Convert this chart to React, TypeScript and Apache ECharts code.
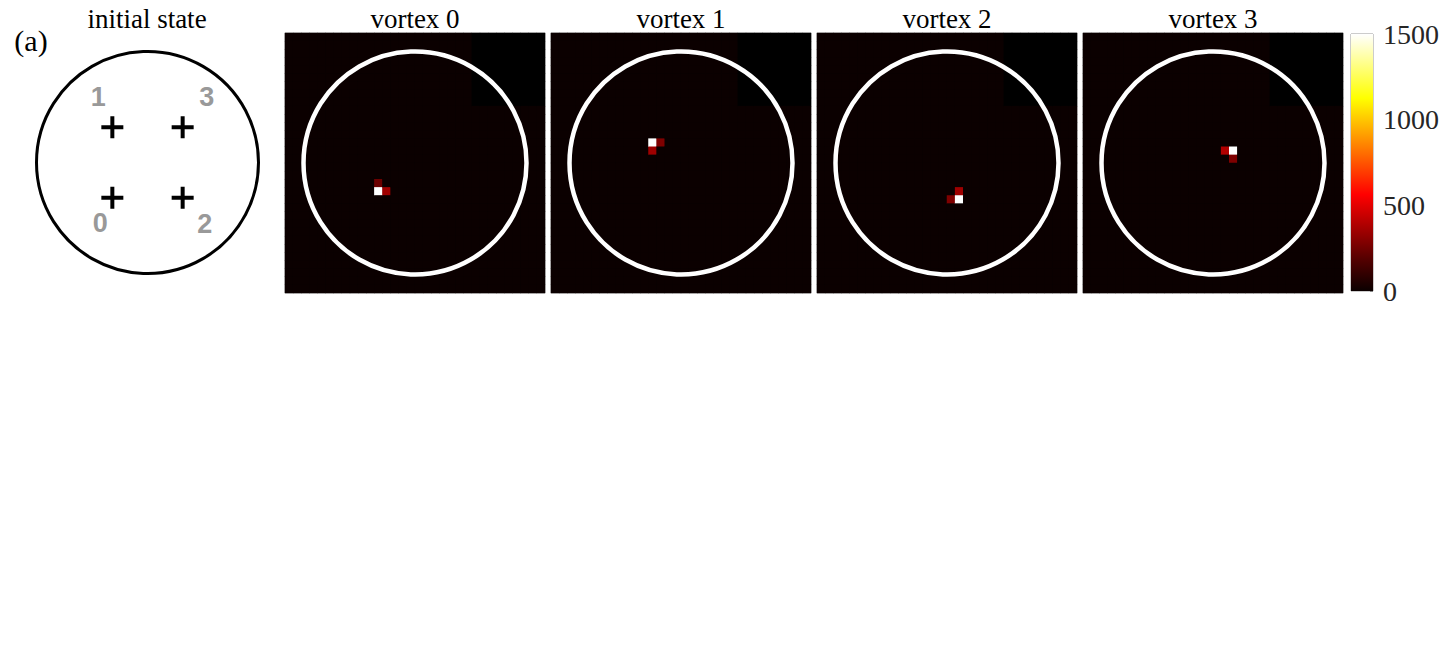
import React, { useEffect, useRef } from "react";
import * as echarts from "echarts";

// ---------- data ----------
const GRID_N = 32; // cells per side of each vortex map
const vortexTitles = ["vortex 0", "vortex 1", "vortex 2", "vortex 3"];
// hot cells per vortex map: [column, row(from top), counts]
const vortex0Cells = [[11, 18, 235], [11, 19, 1500], [12, 19, 350]];
const vortex1Cells = [[12, 13, 1500], [13, 13, 280], [12, 14, 350]];
const vortex2Cells = [[17, 19, 350], [17, 20, 1500], [16, 20, 280]];
const vortex3Cells = [[17, 14, 390], [18, 14, 1500], [18, 15, 280]];
const vortexCells = [vortex0Cells, vortex1Cells, vortex2Cells, vortex3Cells];
const backgroundValue = 0;
// top-right block with no data (drawn pure black): columns / rows
const emptyCols = [23, 31];
const emptyRows = [0, 8];
const emptyValue = -1;

const initialIds = ["0", "1", "2", "3"];
const initialX = [-1, -1, 1, 1];
const initialY = [-1, 1, -1, 1];

const colorbarMin = 0;
const colorbarMax = 1500;
const colorbarInterval = 500;

// ---------- styles ----------
const hotColors = [
  "#0b0000", "#550000", "#aa0000", "#ff0000", "#ff5500",
  "#ffaa00", "#ffff00", "#ffff80", "#ffffff",
];
const SERIF = "Liberation Serif";
const labelOffsets = [[-12, 25], [-14, -30], [22, 26], [24, -30]];
const PLUS = "path://M9,0H13V9H22V13H13V22H9V13H0V9H9Z";

function buildCells(hot: number[][]) {
  const out: number[][] = [];
  for (let c = 0; c < GRID_N; c++) {
    for (let r = 0; r < GRID_N; r++) {
      const inEmpty =
        c >= emptyCols[0] && c <= emptyCols[1] && r >= emptyRows[0] && r <= emptyRows[1];
      out.push([c, r, inEmpty ? emptyValue : backgroundValue]);
    }
  }
  hot.forEach(([c, r, v]) => {
    out[c * GRID_N + r] = [c, r, v];
  });
  return out;
}

function buildOption() {
  const cats = Array.from({ length: GRID_N }, (_, i) => String(i));
  const panelLeft = 285, panelStep = 266, panelTop = 33, panelSize = 260;

  const grids: any[] = [{ left: 35, top: 50, width: 225, height: 225 }];
  const xAxes: any[] = [{ gridIndex: 0, type: "value", min: -3.2, max: 3.2, show: false }];
  const yAxes: any[] = [{ gridIndex: 0, type: "value", min: -3.2, max: 3.2, show: false }];
  const series: any[] = [];
  const graphics: any[] = [];

  series.push({
    type: "scatter", xAxisIndex: 0, yAxisIndex: 0, silent: true,
    data: [[0, 0]], symbol: "circle", symbolSize: 222,
    itemStyle: { color: "rgba(0,0,0,0)", borderColor: "#000", borderWidth: 3, opacity: 1 },
  });
  series.push({
    type: "scatter", xAxisIndex: 0, yAxisIndex: 0, silent: true,
    data: initialIds.map((id, i) => ({
      value: [initialX[i], initialY[i]], name: id,
      label: { offset: labelOffsets[i] },
    })),
    symbol: PLUS, symbolSize: 22,
    itemStyle: { color: "#000", opacity: 1 },
    label: {
      show: true, position: "inside", formatter: "{b}",
      fontFamily: "Liberation Sans", fontWeight: "bold", fontSize: 27, color: "#999999",
    },
  });

  graphics.push({
    type: "text", x: 31, y: 40,
    style: { text: "(a)", font: `30px '${SERIF}'`, fill: "#000", align: "center", verticalAlign: "middle" },
  });
  graphics.push({
    type: "text", x: 147, y: 19,
    style: { text: "initial state", font: `27px '${SERIF}'`, fill: "#000", align: "center", verticalAlign: "middle" },
  });

  const heatIdx: number[] = [];
  vortexCells.forEach((cells, i) => {
    const left = panelLeft + panelStep * i;
    grids.push({
      left, top: panelTop, width: panelSize, height: panelSize,
      show: true, borderColor: "#b5b5b5", borderWidth: 1, backgroundColor: hotColors[0],
    });
    graphics.push({
      type: "text", x: left + panelSize / 2, y: 19,
      style: { text: vortexTitles[i], font: `27px '${SERIF}'`, fill: "#000", align: "center", verticalAlign: "middle" },
    });
  });
  grids.push({ left: 1351, top: 34, width: 22, height: 257, show: true, borderColor: "#999", borderWidth: 1 });

  for (let i = 0; i < 4; i++) {
    xAxes.push({ gridIndex: i + 1, type: "category", data: cats, show: false });
    yAxes.push({ gridIndex: i + 1, type: "category", data: cats, inverse: true, show: false });
  }
  for (let i = 0; i < 4; i++) {
    xAxes.push({ gridIndex: i + 1, type: "value", min: 0, max: GRID_N, show: false });
    yAxes.push({ gridIndex: i + 1, type: "value", min: 0, max: GRID_N, inverse: true, show: false });
  }
  xAxes.push({ gridIndex: 5, type: "category", data: ["counts"], show: false });
  yAxes.push({
    gridIndex: 5, type: "value", min: colorbarMin, max: colorbarMax, interval: colorbarInterval,
    position: "right",
    axisLine: { show: false },
    axisTick: { show: true, inside: true, length: 3, lineStyle: { color: "#888" } },
    splitLine: { show: false },
    axisLabel: {
      fontFamily: SERIF, fontSize: 28, color: "#262626", margin: 10,
      formatter: (v: number) => String(v),
    },
  });

  vortexCells.forEach((cells, i) => {
    heatIdx.push(series.length);
    series.push({
      type: "heatmap", xAxisIndex: i + 1, yAxisIndex: i + 1, silent: true,
      data: buildCells(cells), progressive: 0,
    });
  });
  vortexCells.forEach((_, i) => {
    series.push({
      type: "scatter", xAxisIndex: 5 + i, yAxisIndex: 5 + i, silent: true, z: 5,
      data: [[GRID_N / 2, GRID_N / 2]], symbol: "circle", symbolSize: 223,
      itemStyle: { color: "rgba(0,0,0,0)", borderColor: "#ffffff", borderWidth: 4.5, opacity: 1 },
    });
  });
  series.push({
    type: "bar", xAxisIndex: 9, yAxisIndex: 9, silent: true, barWidth: "100%",
    data: [colorbarMax],
    itemStyle: {
      color: new echarts.graphic.LinearGradient(0, 1, 0, 0,
        hotColors.map((c, k) => ({ offset: k / (hotColors.length - 1), color: c }))),
    },
  });

  return {
    animation: false,
    backgroundColor: "#fff",
    grid: grids,
    xAxis: xAxes,
    yAxis: yAxes,
    visualMap: {
      type: "continuous", show: false,
      min: emptyValue, max: colorbarMax, range: [colorbarMin, colorbarMax],
      seriesIndex: heatIdx,
      inRange: { color: hotColors },
      outOfRange: { color: ["#000000"] },
    },
    graphic: graphics,
    series,
  };
}

export default function App() {
  const ref = useRef<HTMLDivElement>(null);
  useEffect(() => {
    if (!ref.current) return;
    const chart = echarts.init(ref.current, undefined, { renderer: "svg" });
    chart.setOption(buildOption() as any);
    return () => chart.dispose();
  }, []);
  return (
    <div
      ref={ref}
      style={{ position: "fixed", left: 0, top: 0, width: 1450, height: 667, background: "#fff" }}
    />
  );
}
